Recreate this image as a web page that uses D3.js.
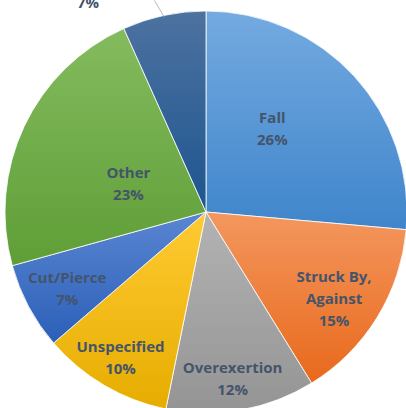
<!DOCTYPE html>
<html>
<head>
<meta charset="utf-8">
<script src="https://cdn.jsdelivr.net/npm/d3@7"></script>
<style>
  html, body { margin: 0; padding: 0; background: #fff; }
  svg { display: block; }
</style>
</head>
<body>
<script>
const categories = ['Fall', 'Struck By, Against', 'Overexertion', 'Unspecified', 'Cut/Pierce', 'Other', 'Caught In'];
const values = [26.4, 14.8, 12.0, 10.5, 7.0, 22.6, 6.7];
const pctLabels = ['26%', '15%', '12%', '10%', '7%', '23%', '7%'];
const nameLines = [['Fall'], ['Struck By,', 'Against'], ['Overexertion'], ['Unspecified'], ['Cut/Pierce'], ['Other'], []];

const width = 406;
const height = 408;
const cx = 206;
const cy = 212;
const radius = 201;

// office-like gradients, light at top, dark at bottom
const colors = [
  ['#74aae0', '#3f85cb'],
  ['#f4975e', '#e8691c'],
  ['#b3b3b3', '#949494'],
  ['#ffcb33', '#e6ac00'],
  ['#5a86d2', '#2b5fb8'],
  ['#84bb5e', '#5f9e37'],
  ['#4d72a0', '#1d5590'],
];

const svg = d3.select('body').append('svg')
  .attr('width', width)
  .attr('height', height);

const defs = svg.append('defs');
colors.forEach((c, i) => {
  const g = defs.append('linearGradient')
    .attr('id', `g${i}`)
    .attr('x1', 0).attr('y1', 0).attr('x2', 0).attr('y2', 1);
  g.append('stop').attr('offset', '0%').attr('stop-color', c[0]);
  g.append('stop').attr('offset', '100%').attr('stop-color', c[1]);
});

const pie = d3.pie().sort(null).value(d => d);
const arcs = pie(values);
const arc = d3.arc().innerRadius(0).outerRadius(radius);

const g = svg.append('g').attr('transform', `translate(${cx},${cy})`);

g.selectAll('path')
  .data(arcs)
  .enter()
  .append('path')
  .attr('d', arc)
  .attr('fill', (d, i) => `url(#g${i})`)
  .attr('stroke', '#fff')
  .attr('stroke-width', 0.8);

// label placement: fraction of radius and nudge off the mid angle (degrees)
const labelR = [0.53, 0.77, 0.84, 0.84, 0.79, 0.41];
const labelTurn = [-9, 2.5, 1, 0, -1, -5.5];
const lineH = 22;
const labels = g.append('g')
  .attr('font-family', '"Open Sans", Lato, sans-serif')
  .attr('font-weight', 'bold')
  .attr('font-size', 15)
  .attr('fill', '#44546a')
  .attr('text-anchor', 'middle');

arcs.forEach((d, i) => {
  if (i === 6) return;
  const a = (d.startAngle + d.endAngle) / 2 + labelTurn[i] * Math.PI / 180;
  const r = radius * labelR[i];
  const x = Math.sin(a) * r;
  const y = -Math.cos(a) * r;
  const lines = nameLines[i].concat([pctLabels[i]]);
  const y0 = y - (lines.length - 1) * lineH / 2;
  lines.forEach((t, j) => {
    labels.append('text')
      .attr('x', x)
      .attr('y', y0 + j * lineH)
      .attr('dy', '0.35em')
      .text(t);
  });
});

// outside label for the small dark slice, mostly off the top edge
const last = arcs[6];
const am = (last.startAngle + last.endAngle) / 2;
const p0 = [Math.sin(am) * radius * 0.99, -Math.cos(am) * radius * 0.99];
g.append('line')
  .attr('x1', p0[0]).attr('y1', p0[1])
  .attr('x2', p0[0] - 10).attr('y2', p0[1] - 17)
  .attr('stroke', '#a6a6a6')
  .attr('stroke-width', 0.8);
labels.append('text')
  .attr('x', -118)
  .attr('y', -209)
  .attr('dy', '0.35em')
  .text(pctLabels[6]);
</script>
</body>
</html>
